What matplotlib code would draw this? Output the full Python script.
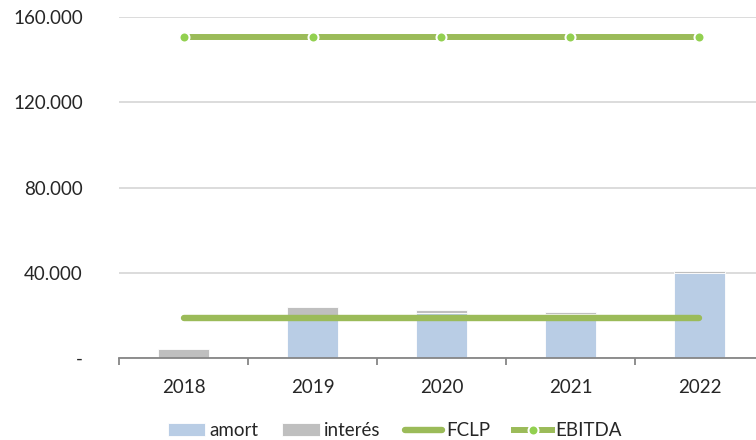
import matplotlib.pyplot as plt
import numpy as np

years = ["2018", "2019", "2020", "2021", "2022"]
amort = [0, 20000, 21000, 20800, 39700]
interes = [4100, 3900, 1400, 900, 1100]
fclp = [18750, 18750, 18750, 18750, 18750]
ebitda = [150500, 150500, 150500, 150500, 150500]

yticks = [0, 40000, 80000, 120000, 160000]
ytick_labels = ["-", "40.000", "80.000", "120.000", "160.000"]

plt.rcParams['font.family'] = ['Lato', 'DejaVu Sans']

fig = plt.figure(figsize=(7.56, 4.40), dpi=100)
ax = fig.add_axes([119/756, 1 - 358/440, 645/756, 341/440])

x = np.arange(len(years))
w = 0.39
b1 = ax.bar(x, amort, w, color="#B9CDE5", edgecolor="white", linewidth=0.6, label="amort", zorder=2)
b2 = ax.bar(x, interes, w, bottom=amort, color="#BFBFBF", edgecolor="white", linewidth=0.6, label="interés", zorder=2)
l1, = ax.plot(x, fclp, color="#9BBB59", lw=4.6, solid_capstyle="round", label="FCLP", zorder=3)
l2, = ax.plot(x, ebitda, color="#9BBB59", lw=4.3, marker="o", markersize=7.2,
              markerfacecolor="#92D050", markeredgecolor="white", markeredgewidth=1.44,
              label="EBITDA", zorder=3)

ax.set_xlim(-0.5, len(years) - 0.5)
ax.set_ylim(0, 160000)
ax.set_yticks(yticks)
ax.set_yticklabels(ytick_labels)
ax.set_xticks(x)
ax.set_xticklabels(years)
ax.set_xticks(np.arange(-0.5, len(years)), minor=True)

ax.grid(axis="y", color="#D9D9D9", lw=1.3, zorder=0)
ax.set_axisbelow(True)
for s in ["top", "right", "left"]:
    ax.spines[s].set_visible(False)
ax.spines["bottom"].set_color("#868686")
ax.spines["bottom"].set_linewidth(1.3)

ax.tick_params(axis="y", length=0, pad=26, labelsize=13.5, labelcolor="#262626")
ax.tick_params(axis="x", which="major", length=0, pad=15, labelsize=13.5, labelcolor="#262626")
ax.tick_params(axis="x", which="minor", length=5, width=1.3, color="#868686")

fig.legend([b1, b2, l1, l2], ["amort", "interés", "FCLP", "EBITDA"],
           loc="lower center", bbox_to_anchor=(395/756, 0.0), ncol=4, frameon=False,
           fontsize=13.5, handlelength=2.0, handletextpad=0.2, columnspacing=1.3,
           labelcolor="#262626", borderpad=0.05, borderaxespad=0.0)

plt.savefig("out.png", dpi=100)
